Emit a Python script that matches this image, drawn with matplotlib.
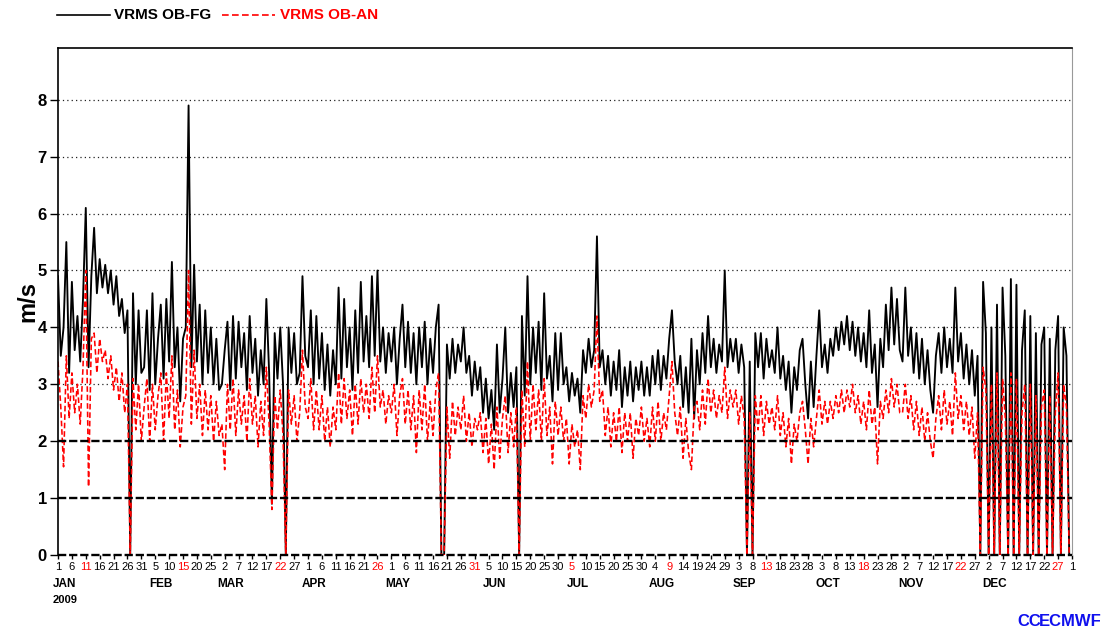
import datetime
import numpy as np
import matplotlib
matplotlib.use("Agg")
import matplotlib.pyplot as plt
from matplotlib.lines import Line2D

plt.rcParams['font.family'] = ['Liberation Sans', 'DejaVu Sans']

# daily vector RMS (m/s), 2009; 0.0 where no observations were available
fg_jan = [4.9, 3.5, 4.0, 5.5, 3.2, 4.8, 3.6, 4.2, 3.4, 4.5, 6.1, 3.3, 4.9, 5.75, 4.6, 5.2,
          4.7, 5.1, 4.6, 5.0, 4.4, 4.9, 4.2, 4.5, 3.9, 4.3, 0.0, 4.6, 3.0, 4.3, 3.2]
fg_feb = [3.3, 4.3, 2.9, 4.6, 3.0, 3.8, 4.4, 3.1, 4.5, 3.4, 5.15, 3.3, 4.0, 2.7, 3.8, 4.0,
          7.9, 3.3, 5.1, 3.4, 4.4, 3.0, 4.3, 3.2, 4.0, 3.0, 3.8, 2.9]
fg_mar = [3.0, 3.6, 4.1, 2.9, 4.2, 3.1, 4.1, 3.3, 3.9, 2.9, 4.2, 3.2, 3.8, 2.8, 3.6, 3.0,
          4.5, 3.2, 0.9, 3.9, 3.1, 4.0, 3.0, 0.0, 4.0, 3.2, 3.9, 3.0, 3.2, 4.9, 3.5]
fg_apr = [3.3, 4.3, 3.0, 4.2, 3.1, 3.9, 2.9, 3.7, 2.8, 3.6, 3.0, 4.7, 3.1, 4.5, 3.3, 4.0,
          2.9, 4.3, 3.2, 4.8, 3.4, 4.2, 3.3, 4.9, 3.5, 5.0, 3.4, 4.0, 3.2, 3.9]
fg_may = [3.4, 4.0, 3.0, 3.8, 4.4, 3.3, 4.1, 3.2, 3.9, 3.0, 4.0, 3.3, 4.1, 3.0, 3.8, 3.2,
          4.0, 4.4, 0.0, 0.0, 3.7, 3.1, 3.8, 3.2, 3.7, 3.4, 4.0, 3.2, 3.5, 2.8, 3.4]
fg_jun = [2.9, 3.3, 2.5, 3.1, 2.4, 2.9, 2.2, 3.7, 2.5, 3.1, 4.0, 2.5, 3.2, 2.6, 3.3, 0.0,
          4.2, 2.8, 4.9, 3.0, 4.0, 3.2, 4.1, 2.9, 4.6, 3.1, 3.5, 2.7, 3.9, 2.9]
fg_jul = [3.9, 3.0, 3.3, 2.7, 3.2, 2.8, 3.1, 2.5, 3.6, 3.2, 3.8, 3.3, 3.6, 5.6, 3.3, 3.6,
          3.0, 3.5, 2.8, 3.4, 2.9, 3.6, 2.6, 3.3, 2.8, 3.4, 2.7, 3.3, 2.9, 3.4, 2.8]
fg_aug = [3.3, 2.8, 3.5, 3.0, 3.6, 2.9, 3.5, 3.1, 3.8, 4.3, 3.4, 3.0, 3.5, 2.6, 3.3, 2.5,
          3.8, 2.4, 3.6, 3.0, 3.9, 3.2, 4.2, 3.3, 3.8, 3.2, 3.7, 3.4, 5.0, 3.3, 3.8]
fg_sep = [3.4, 3.8, 3.2, 3.7, 3.3, 0.0, 3.4, 0.0, 3.9, 3.3, 3.9, 3.1, 3.8, 3.3, 3.6, 3.2,
          4.0, 3.1, 3.5, 2.9, 3.4, 2.5, 3.3, 2.9, 3.6, 3.8, 3.0, 2.4, 3.4, 2.6]
fg_oct = [3.5, 4.3, 3.3, 3.7, 3.2, 3.8, 3.5, 4.0, 3.6, 4.1, 3.7, 4.2, 3.6, 4.1, 3.5, 4.0,
          3.4, 3.9, 3.3, 4.3, 3.2, 3.7, 2.6, 3.8, 3.3, 4.4, 3.6, 4.7, 3.7, 4.5, 3.6]
fg_nov = [3.4, 4.7, 3.5, 4.0, 3.2, 3.9, 3.1, 3.8, 3.0, 3.6, 2.9, 2.5, 3.5, 3.9, 3.2, 4.0,
          3.3, 3.8, 3.2, 4.7, 3.4, 3.9, 3.1, 3.7, 3.0, 3.6, 2.8, 3.5, 0.0, 4.8]
fg_dec = [3.9, 0.0, 4.0, 0.0, 4.4, 0.0, 4.7, 3.5, 0.0, 4.85, 0.0, 4.75, 0.0, 3.6, 4.3, 0.0,
          4.2, 0.0, 3.9, 0.0, 3.7, 4.0, 0.0, 3.8, 0.0, 3.6, 4.2, 0.0, 4.0, 3.5, 0.0]

an_jan = [3.4, 2.6, 1.55, 3.5, 2.4, 3.2, 2.5, 3.0, 2.3, 3.3, 5.0, 1.2, 3.8, 3.9, 3.2, 3.8,
          3.4, 3.6, 3.1, 3.5, 2.9, 3.3, 2.7, 3.2, 2.5, 3.0, 0.0, 3.1, 2.2, 3.0, 2.0]
an_feb = [2.6, 3.1, 2.0, 3.0, 2.2, 2.8, 3.2, 2.0, 3.2, 2.4, 3.5, 2.2, 2.9, 1.9, 2.6, 2.8,
          5.0, 2.3, 3.6, 2.4, 3.0, 2.1, 2.9, 2.2, 2.8, 2.0, 2.7, 2.1]
an_mar = [2.3, 1.5, 3.0, 2.2, 3.1, 2.1, 2.9, 2.3, 2.8, 2.0, 3.1, 2.3, 2.8, 1.9, 2.7, 2.1,
          3.3, 2.3, 0.8, 2.8, 2.2, 2.9, 2.1, 0.0, 2.9, 2.3, 2.8, 2.0, 2.5, 3.6, 2.6]
an_apr = [2.4, 3.1, 2.2, 2.9, 2.2, 2.8, 2.0, 2.6, 1.9, 2.6, 2.2, 3.2, 2.3, 3.1, 2.4, 2.9,
          2.1, 3.0, 2.3, 3.1, 2.5, 3.0, 2.4, 3.3, 2.5, 3.5, 2.6, 2.9, 2.3, 2.8]
an_may = [2.5, 3.0, 2.1, 2.8, 3.1, 2.3, 2.9, 2.2, 2.8, 1.8, 2.9, 2.2, 3.0, 2.0, 2.7, 2.1,
          2.9, 3.2, 0.0, 0.0, 2.6, 1.7, 2.7, 2.1, 2.6, 2.2, 2.8, 2.0, 2.5, 1.9, 2.4]
an_jun = [2.2, 2.5, 1.8, 2.4, 1.6, 2.3, 1.5, 2.6, 1.7, 2.4, 2.8, 1.8, 2.5, 1.9, 2.6, 0.0,
          2.9, 1.9, 3.4, 2.0, 3.0, 2.2, 2.9, 2.0, 3.1, 2.1, 2.6, 1.6, 2.7, 2.1]
an_jul = [2.6, 2.0, 2.4, 1.6, 2.3, 1.9, 2.2, 1.5, 2.8, 2.4, 3.0, 2.6, 2.9, 4.2, 2.7, 2.9,
          2.1, 2.6, 1.9, 2.5, 2.0, 2.6, 1.8, 2.5, 2.0, 2.5, 1.7, 2.4, 2.1, 2.6, 2.0]
an_aug = [2.4, 1.9, 2.6, 2.0, 2.7, 2.0, 2.5, 2.2, 2.8, 3.4, 2.5, 2.1, 2.6, 1.7, 2.4, 1.8,
          1.5, 2.6, 2.7, 2.2, 2.9, 2.3, 3.1, 2.5, 2.9, 2.4, 2.8, 2.5, 3.3, 2.4, 2.9]
an_sep = [2.6, 2.9, 2.3, 2.8, 2.4, 0.0, 2.5, 0.0, 2.8, 2.2, 2.8, 2.1, 2.7, 2.3, 2.6, 2.2,
          2.8, 2.1, 2.5, 1.9, 2.4, 1.6, 2.3, 2.0, 2.5, 2.7, 2.2, 1.6, 2.4, 1.9]
an_oct = [2.4, 2.9, 2.3, 2.7, 2.3, 2.7, 2.4, 2.8, 2.5, 2.9, 2.5, 2.9, 2.6, 3.0, 2.5, 2.8,
          2.3, 2.7, 2.2, 2.9, 2.3, 2.6, 1.6, 2.7, 2.4, 2.9, 2.5, 3.1, 2.6, 3.0, 2.5]
an_nov = [2.5, 3.0, 2.4, 2.8, 2.2, 2.7, 2.1, 2.6, 2.0, 2.5, 2.0, 1.7, 2.4, 2.8, 2.2, 2.9,
          2.3, 2.7, 2.1, 3.2, 2.4, 2.8, 2.2, 2.7, 2.1, 2.6, 1.7, 2.5, 0.0, 3.3]
an_dec = [2.9, 0.0, 3.0, 0.0, 3.2, 0.0, 3.1, 2.4, 0.0, 3.2, 0.0, 3.1, 0.0, 2.5, 3.0, 0.0,
          3.0, 0.0, 2.8, 0.0, 2.6, 2.9, 0.0, 2.8, 0.0, 2.5, 3.2, 0.0, 3.0, 2.6, 0.0]

months = ['JAN', 'FEB', 'MAR', 'APR', 'MAY', 'JUN', 'JUL', 'AUG', 'SEP', 'OCT', 'NOV', 'DEC']
year = 2009

fg = np.concatenate([fg_jan, fg_feb, fg_mar, fg_apr, fg_may, fg_jun,
                     fg_jul, fg_aug, fg_sep, fg_oct, fg_nov, fg_dec])
an = np.concatenate([an_jan, an_feb, an_mar, an_apr, an_may, an_jun,
                     an_jul, an_aug, an_sep, an_oct, an_nov, an_dec])
days = np.arange(len(fg))
start = datetime.date(year, 1, 1)

W, H = 1107, 631
fig = plt.figure(figsize=(W / 100, H / 100), dpi=100)
ax = fig.add_axes([58 / W, 1 - 555 / H, (1072 - 58) / W, (555 - 48) / H])

ax.plot(days, fg, color='black', lw=1.35, zorder=2)
ax.plot(days, an, color='#ff0000', lw=1.15, ls=(0, (3.5, 1.8)), zorder=2.5)

for v in range(3, 9):
    ax.axhline(v, color='#222222', lw=0.9, ls=(0, (1, 2.5)), zorder=1)
for v in (0, 1, 2):
    ax.axhline(v, color='black', lw=1.7, ls=(0, (3.5, 1.2)), zorder=3, clip_on=False)

ax.set_xlim(0, 365)
ax.set_ylim(0, 8.91)

for s in ('left', 'top'):
    ax.spines[s].set_linewidth(1.2)
ax.spines['right'].set_color('#999999')
ax.spines['bottom'].set_visible(False)

# y axis
ax.set_yticks(range(0, 9))
ax.set_yticklabels([str(v) for v in range(0, 9)], fontsize=12, fontweight='bold')
ax.tick_params(axis='y', length=6, width=1, pad=2)
ax.set_ylabel('m/s', fontsize=17, fontweight='bold', labelpad=-1)

# x axis: a tick every 5 days, every 7th tick (Sundays) in red
ticks = np.arange(0, 366, 5)
tick_dates = [start + datetime.timedelta(days=int(t)) for t in ticks]
ax.set_xticks(ticks)
ax.set_xticklabels([str(d.day) for d in tick_dates], fontsize=8)
for t, lab in zip(ticks, ax.get_xticklabels()):
    if t % 35 == 10:
        lab.set_color('#ff0000')
ax.tick_params(axis='x', length=3, width=1, pad=2)

trans = ax.get_xaxis_transform()
for m, name in enumerate(months):
    first = (datetime.date(year, m + 1, 1) - start).days
    first_tick = ticks[ticks >= first][0]
    ax.text(first_tick + 2.2, -0.058, name, transform=trans, ha='center', va='center',
            fontsize=8.5, fontweight='bold')
ax.text(2.5, -0.089, str(year), transform=trans, ha='center', va='center',
        fontsize=8, fontweight='bold')

# legend along the top
ly = 1 - 15 / H
fig.add_artist(Line2D([57 / W, 110 / W], [ly, ly], color='black', lw=1.2))
fig.text(114 / W, ly, 'VRMS OB-FG', color='black', fontsize=11, fontweight='bold', va='center')
fig.add_artist(Line2D([222 / W, 275 / W], [ly, ly], color='#ff0000', lw=1.2, ls=(0, (4, 2))))
fig.text(280 / W, ly, 'VRMS OB-AN', color='#ff0000', fontsize=11, fontweight='bold', va='center')

# logo
fig.text(1017 / W, 1 - 621 / H, 'CC', color='#1010ee', fontsize=12, fontweight='bold',
         va='center', fontstretch='condensed')
fig.text(1039 / W, 1 - 621 / H, 'ECMWF', color='#1010ee', fontsize=12, fontweight='bold',
         va='center')

fig.savefig('out.png', dpi=100)
